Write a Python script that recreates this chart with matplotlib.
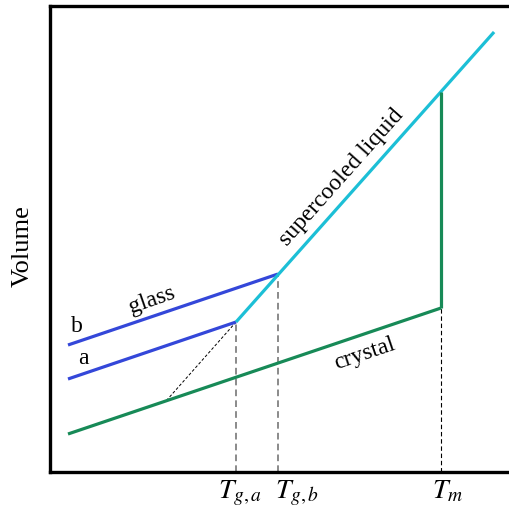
import matplotlib
matplotlib.use("Agg")
import matplotlib.pyplot as plt

plt.rcParams['font.family'] = ['Liberation Serif', 'DejaVu Serif']
plt.rcParams['mathtext.fontset'] = 'stix'

W, H = 510, 513

# temperatures (arbitrary units) and volumes (arbitrary units)
T_ga, T_gb, T_m = 236, 278, 441
T_low, T_high = 68, 494
tick_pos = [T_ga, T_gb, T_m]
tick_labels = [r'$T_{g,a}$', r'$T_{g,b}$', r'$T_m$']
label_shift = [-18, -3, -9]   # label left edge offset from tick position

liquid_T = [T_ga, T_high]
liquid_V = [191, 481]
glass_b_T = [T_low, T_gb]
glass_b_V = [168, 239]
glass_a_T = [T_low, T_ga]
glass_a_V = [134, 191]
crystal_T = [T_low, T_m]
crystal_V = [79, 205]
melt_T = [T_m, T_m]
melt_V = [205, 421]
relax_T = [T_ga, 166]
relax_V = [191, 112]

blue = '#3447d9'
cyan = '#1cbfd6'
green = '#178a57'

fig = plt.figure(figsize=(W/100, H/100), dpi=100)
ax = fig.add_axes([50/W, 41/H, 1 - 50/W + 0.01, (472-6)/H])
ax.set_xlim(50, 515)
ax.set_ylim(41, 507)

lw = 2.3
ax.plot(glass_b_T, glass_b_V, color=blue, lw=lw, solid_capstyle='butt', zorder=3)
ax.plot(glass_a_T, glass_a_V, color=blue, lw=lw, solid_capstyle='butt', zorder=3)
ax.plot(liquid_T, liquid_V, color=cyan, lw=lw, solid_capstyle='butt', zorder=3)
ax.plot(crystal_T, crystal_V, color=green, lw=lw, solid_capstyle='butt', zorder=3)
ax.plot(melt_T, melt_V, color=green, lw=lw, solid_capstyle='butt', zorder=3)
ax.plot(relax_T, relax_V, color='black', lw=0.7, ls=(0, (3, 2)), zorder=2)

ax.plot([T_ga, T_ga], [41, glass_a_V[1]], color='#777777', lw=1.2, ls=(0, (4, 2.5)), zorder=1)
ax.plot([T_gb, T_gb], [41, glass_b_V[1]], color='#777777', lw=1.2, ls=(0, (4, 2.5)), zorder=1)
ax.plot([T_m, T_m], [41, crystal_V[1]], color='black', lw=0.8, ls=(0, (4, 2.5)), zorder=1)

ax.set_xticks([])
ax.set_yticks([])
for pos, lab, sh in zip(tick_pos, tick_labels, label_shift):
    ax.text(pos + sh, 513 - 498, lab, fontsize=20, ha='left', va='baseline', clip_on=False)

for s in ['left', 'top', 'bottom']:
    ax.spines[s].set_linewidth(2.4)
ax.spines['right'].set_visible(False)

fs = 17
ax.text(152, 513-300, 'glass', rotation=19.2, fontsize=fs, ha='center', va='center', rotation_mode='anchor')
ax.text(77, 513-326, 'b', fontsize=fs, ha='center', va='center')
ax.text(83, 513-358, 'a', fontsize=fs, ha='center', va='center')
ax.text(365, 513-354, 'crystal', rotation=18.7, fontsize=fs, ha='center', va='center', rotation_mode='anchor')
ax.text(342, 513-177, 'supercooled liquid', rotation=48.3, fontsize=fs, ha='center', va='center', rotation_mode='anchor')

fig.text(23/W, 1-246/H, 'Volume', rotation=90, fontsize=19, ha='center', va='center')

fig.savefig('out.png', dpi=100)
